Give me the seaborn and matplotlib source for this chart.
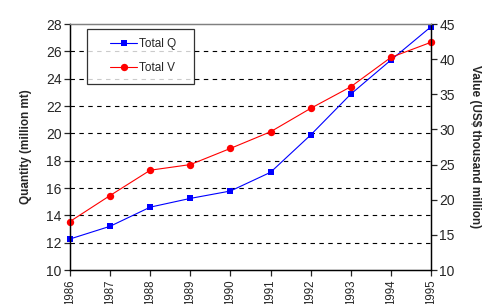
import numpy as np
import pandas as pd
import matplotlib
matplotlib.use("Agg")
import matplotlib.pyplot as plt
from matplotlib.legend_handler import HandlerLine2D
import seaborn as sns

years = [1986, 1987, 1988, 1989, 1990, 1991, 1992, 1993, 1994, 1995]
total_q = [12.27, 13.2, 14.6, 15.24, 15.78, 17.15, 19.88, 22.87, 25.36, 27.8]
total_v = [16.9, 20.6, 24.2, 25.0, 27.3, 29.67, 33.0, 36.07, 40.25, 42.4]

df = pd.DataFrame({"year": years, "q": total_q, "v": total_v})

sns.set_style("white")
plt.rcParams["font.family"] = ["Liberation Sans", "DejaVu Sans"]

fig = plt.figure(figsize=(4.97, 3.04), dpi=100)
ax1 = fig.add_axes([0.1408, 0.1118, 0.7264, 0.8092])
ax2 = ax1.twinx()

sns.lineplot(data=df, x="year", y="q", ax=ax1, color="#0000ff", lw=0.8,
             marker="s", markersize=4.6, markeredgewidth=0, clip_on=False,
             label="Total Q", legend=False)
sns.lineplot(data=df, x="year", y="v", ax=ax2, color="#ff0000", lw=0.8,
             marker="o", markersize=5.3, markeredgewidth=0, clip_on=False,
             label="Total V", legend=False)

ax1.set_xlim(1986, 1995)
ax1.set_ylim(10, 28)
ax2.set_ylim(10, 45)
ax1.set_xticks(years)
ax1.set_xticklabels([str(y) for y in years], rotation=90, fontsize=8.3)
ax1.set_yticks(np.arange(10, 29, 2))
ax2.set_yticks(np.arange(10, 46, 5))
ax1.tick_params(axis="y", labelsize=10, length=4, width=0.9, direction="out",
                left=True, pad=2)
ax1.tick_params(axis="x", length=4, width=0.9, direction="out", bottom=True, pad=2.5)
ax2.tick_params(axis="y", labelsize=10, length=4, width=0.9, direction="out",
                right=True, pad=2)

# dashed horizontal gridlines on the left scale
for yv in range(12, 28, 2):
    ax1.axhline(yv, color="black", lw=0.8, ls=(0, (4, 4)), zorder=0)

ax1.set_xlabel("")
ax1.set_ylabel("Quantity (million mt)", fontsize=8.5, fontweight="bold", labelpad=10)
ax2.set_ylabel("Value (US$ thousand million)", fontsize=8.5, fontweight="bold",
               rotation=270, labelpad=19)

for ax in (ax1, ax2):
    for s in ("left", "right", "bottom"):
        ax.spines[s].set_color("black")
        ax.spines[s].set_linewidth(0.9)
    ax.spines["top"].set_color("#808080")
    ax.spines["top"].set_linewidth(0.9)

h1, l1 = ax1.get_legend_handles_labels()
h2, l2 = ax2.get_legend_handles_labels()
hl = HandlerLine2D(xpad=1.15)
leg = ax2.legend(h1 + h2, l1 + l2, loc="upper left", mode="expand",
                 bbox_to_anchor=(0.047, 0.78, 0.296, 0.2),
                 fancybox=False, edgecolor="black",
                 fontsize=8.5, labelspacing=1.0, handlelength=3.45,
                 borderpad=0.8, handletextpad=0.17, borderaxespad=0,
                 handler_map={h: hl for h in h1 + h2})
leg.get_frame().set_linewidth(0.9)

fig.savefig("out.png", dpi=100)
